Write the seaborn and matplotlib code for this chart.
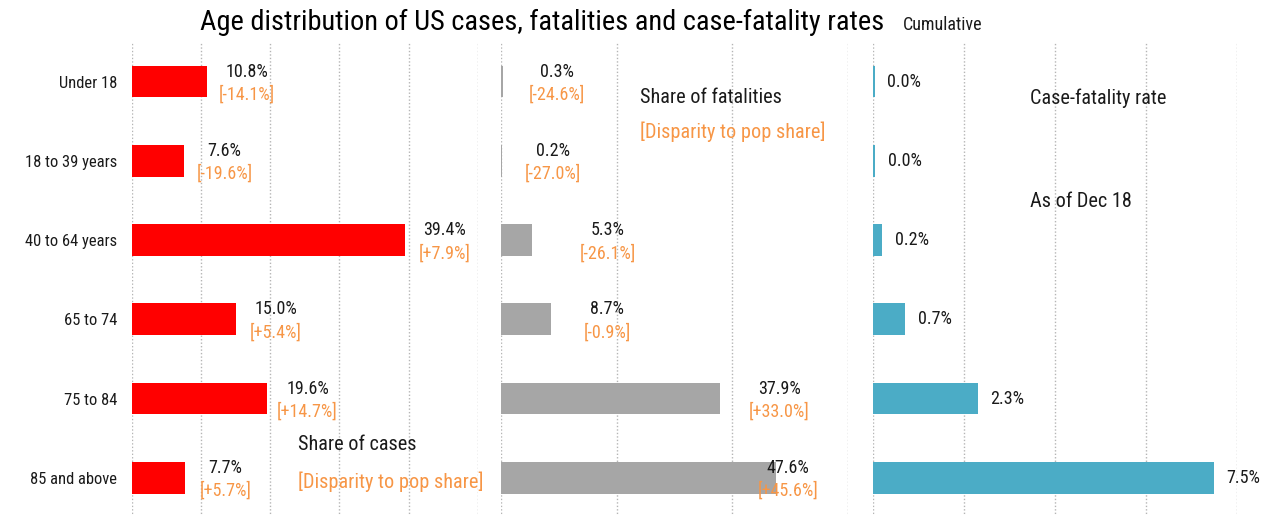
import numpy as np
import pandas as pd
import seaborn as sns
import matplotlib.pyplot as plt

# data
age_groups = ['Under 18', '18 to 39 years', '40 to 64 years', '65 to 74', '75 to 84', '85 and above']
case_share = [10.8, 7.6, 39.4, 15.0, 19.6, 7.7]
case_disparity = [-14.1, -19.6, 7.9, 5.4, 14.7, 5.7]
fatality_share = [0.3, 0.2, 5.3, 8.7, 37.9, 47.6]
fatality_disparity = [-24.6, -27.0, -26.1, -0.9, 33.0, 45.6]
case_fatality_rate = [0.03, 0.04, 0.2, 0.7, 2.3, 7.5]

df = pd.DataFrame({'age': age_groups, 'cases': case_share, 'cases_disp': case_disparity,
                   'fatal': fatality_share, 'fatal_disp': fatality_disparity,
                   'cfr': case_fatality_rate})

# layout: label offsets (data units) for the share-of-fatalities panel
fatal_label_dx = [9.3, 8.8, 13.2, 9.7, 10.3, 2.1]

sns.set_style('white')
plt.rcParams['font.family'] = ['Roboto Condensed', 'DejaVu Sans']

RED = '#FF0000'
GRAY = '#A6A6A6'
BLUE = '#4BACC6'
ORANGE = '#F79646'
GRID = '#B5B5B5'
TXT = '#1a1a1a'

fig = plt.figure(figsize=(12.7, 5.16), dpi=100)
bottom, height = -0.0027, 0.9215
ax1 = fig.add_axes([131.7 / 1270, bottom, (478 - 131.7) / 1270, height])
ax2 = fig.add_axes([501 / 1270, bottom, (847.7 - 501) / 1270, height])
ax3 = fig.add_axes([873.3 / 1270, bottom, (1236.7 - 873.3) / 1270, height])

panels = [(ax1, 'cases', RED, 50, 10), (ax2, 'fatal', GRAY, 60, 20), (ax3, 'cfr', BLUE, 8, 2)]
for ax, col, color, xmax, step in panels:
    sns.barplot(data=df, x=col, y='age', orient='h', color=color, saturation=1,
                width=0.4, linewidth=0, ax=ax)
    ax.set_xlim(0, xmax)
    ax.set_ylim(5.5, -0.5)
    ax.set_xticks(np.arange(0, xmax + 0.01, step))
    ax.grid(axis='x', linestyle=(0, (1, 1.5)), color=GRID, linewidth=1)
    ax.set_axisbelow(True)
    ax.tick_params(length=0, labelbottom=False)
    ax.set_xlabel('')
    ax.set_ylabel('')
    sns.despine(ax=ax, left=True, bottom=True)

ax1.tick_params(axis='y', labelsize=11.9, pad=10.5, labelcolor=TXT)
ax2.tick_params(labelleft=False)
ax3.tick_params(labelleft=False)

# share of cases labels
for i, (v, d) in enumerate(zip(case_share, case_disparity)):
    ax1.annotate(f'{v:.1f}%', (v + 5.8, i), xytext=(0, 7.2), textcoords='offset points',
                 ha='center', va='center', fontsize=13, color=TXT)
    ax1.annotate(f'[{d:+.1f}%]', (v + 5.8, i), xytext=(0, -9.4), textcoords='offset points',
                 ha='center', va='center', fontsize=13, color=ORANGE)

# share of fatalities labels
for i, (v, d) in enumerate(zip(fatality_share, fatality_disparity)):
    x = v + fatal_label_dx[i]
    ax2.annotate(f'{v:.1f}%', (x, i), xytext=(0, 7.2), textcoords='offset points',
                 ha='center', va='center', fontsize=13, color=TXT)
    ax2.annotate(f'[{d:+.1f}%]', (x, i), xytext=(0, -9.4), textcoords='offset points',
                 ha='center', va='center', fontsize=13, color=ORANGE)

# case-fatality labels
for i, v in enumerate(case_fatality_rate):
    ax3.annotate(f'{v:.1f}%', (v, i), xytext=(9, 0), textcoords='offset points',
                 ha='left', va='center', fontsize=13, color=TXT)

# panel captions
ax1.text(24.0, 4.58, 'Share of cases', fontsize=14.6, va='center', ha='left', color=TXT)
ax1.text(24.0, 5.05, '[Disparity to pop share]', fontsize=14.6, va='center', ha='left', color=ORANGE)
ax2.text(24.0, 0.20, 'Share of fatalities', fontsize=14.6, va='center', ha='left', color=TXT)
ax2.text(24.0, 0.64, '[Disparity to pop share]', fontsize=14.6, va='center', ha='left', color=ORANGE)
ax3.text(3.45, 0.21, 'Case-fatality rate', fontsize=14.6, va='center', ha='left', color=TXT)
ax3.text(3.45, 1.52, 'As of Dec 18', fontsize=14.6, va='center', ha='left', color=TXT)

fig.text(200 / 1270, 1 - 22 / 516, 'Age distribution of US cases, fatalities and case-fatality rates',
         fontsize=20.4, ha='left', va='center', color='black')
fig.text(903 / 1270, 1 - 25 / 516, 'Cumulative', fontsize=13, ha='left', va='center', color=TXT)

fig.savefig('out.png', dpi=100)
